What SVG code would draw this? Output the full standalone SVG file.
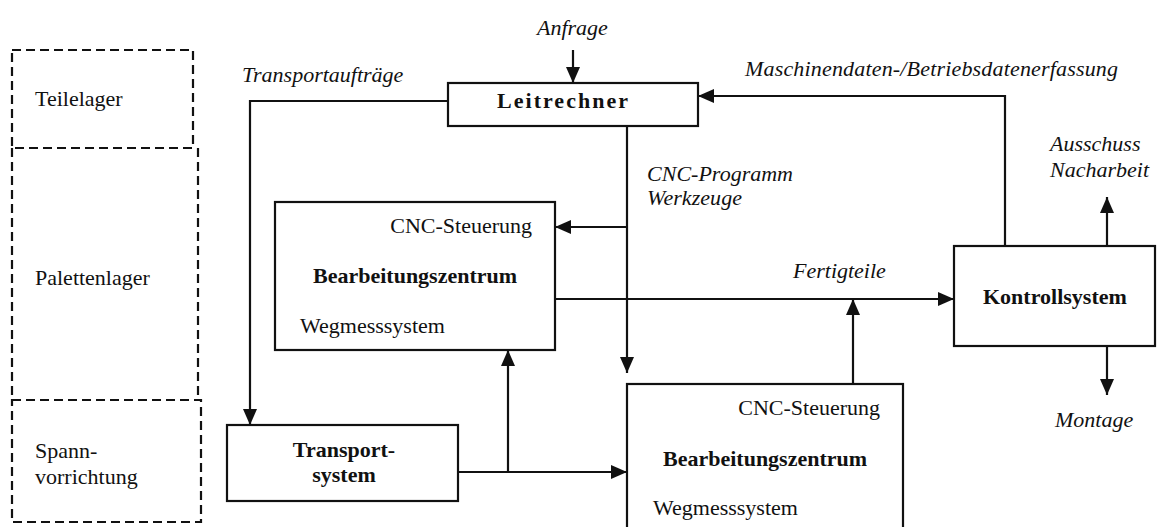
<svg xmlns="http://www.w3.org/2000/svg" width="1159" height="527" viewBox="0 0 1159 527">
<defs>
<marker id="ah" markerUnits="userSpaceOnUse" markerWidth="16" markerHeight="14" viewBox="0 0 16 14" refX="16" refY="7" orient="auto">
<path d="M0,0 L16,7 L0,14 Z" fill="#111"/>
</marker>
<style>
.bg{fill:#fff}
.box{fill:#fff;stroke:#111;stroke-width:2.2}
.dash{fill:none;stroke:#111;stroke-width:2.2;stroke-dasharray:9,5}
.line{fill:none;stroke:#111;stroke-width:2.2}
.arr{fill:none;stroke:#111;stroke-width:2.2;marker-end:url(#ah)}
text{font-family:"Liberation Serif","Times New Roman",serif;font-size:22px;fill:#111}
.b{font-weight:bold}
.i{font-style:italic}
.m{text-anchor:middle}
.e{text-anchor:end}
</style>
</defs>
<rect class="bg" x="0" y="0" width="1159" height="527"/>

<g id="teilelager">
<path class="dash" d="M12,50 H193 V148 H12 Z"/>
<text x="35" y="106">Teilelager</text>
</g>
<g id="palettenlager">
<path class="dash" d="M198,148 V400"/>
<path class="dash" d="M12,148 V400"/>
<text x="35" y="285">Palettenlager</text>
</g>
<g id="spannvorrichtung">
<path class="dash" d="M12,400 H201 V522 H12 Z"/>
<text x="35" y="458">Spann-</text>
<text x="35" y="484">vorrichtung</text>
</g>

<g id="leitrechner">
<rect class="box" x="448" y="83" width="250" height="43"/>
<text class="b" x="497" y="108" textLength="131" lengthAdjust="spacing">Leitrechner</text>
</g>

<g id="bz1">
<rect class="box" x="275" y="202" width="280" height="148"/>
<text class="e" x="532" y="233">CNC-Steuerung</text>
<text class="b" x="313" y="283">Bearbeitungszentrum</text>
<text x="300" y="333">Wegmesssystem</text>
</g>

<g id="bz2">
<rect class="box" x="627" y="384" width="276" height="160"/>
<text class="e" x="880" y="415">CNC-Steuerung</text>
<text class="b" x="663" y="466">Bearbeitungszentrum</text>
<text x="653" y="515">Wegmesssystem</text>
</g>

<g id="transportsystem">
<rect class="box" x="227" y="425" width="231" height="76"/>
<text class="b m" x="344" y="457">Transport-</text>
<text class="b m" x="344" y="482">system</text>
</g>

<g id="kontrollsystem">
<rect class="box" x="954" y="246" width="201" height="100"/>
<text class="b" x="983" y="304">Kontrollsystem</text>
</g>

<g id="connectors">
<path class="arr" d="M573,50 V83"/>
<path class="arr" d="M448,101 H250 V425"/>
<path class="arr" d="M1005,246 V96 H698"/>
<path class="arr" d="M627,126 V373"/>
<path class="arr" d="M627,227 H555"/>
<path class="arr" d="M555,299 H954"/>
<path class="arr" d="M853,384 V299"/>
<path class="arr" d="M458,472 H627"/>
<path class="arr" d="M508,472 V350"/>
<path class="arr" d="M1107,246 V197"/>
<path class="arr" d="M1107,346 V395"/>
</g>

<g id="labels">
<text class="i" x="537" y="35">Anfrage</text>
<text class="i" x="242" y="82">Transportaufträge</text>
<text class="i" x="745" y="76" textLength="373" lengthAdjust="spacing">Maschinendaten-/Betriebsdatenerfassung</text>
<text class="i" x="647" y="181" textLength="146" lengthAdjust="spacing">CNC-Programm</text>
<text class="i" x="647" y="205" textLength="95" lengthAdjust="spacing">Werkzeuge</text>
<text class="i" x="793" y="278">Fertigteile</text>
<text class="i" x="1050" y="151">Ausschuss</text>
<text class="i" x="1050" y="177">Nacharbeit</text>
<text class="i" x="1055" y="427">Montage</text>
</g>
</svg>
